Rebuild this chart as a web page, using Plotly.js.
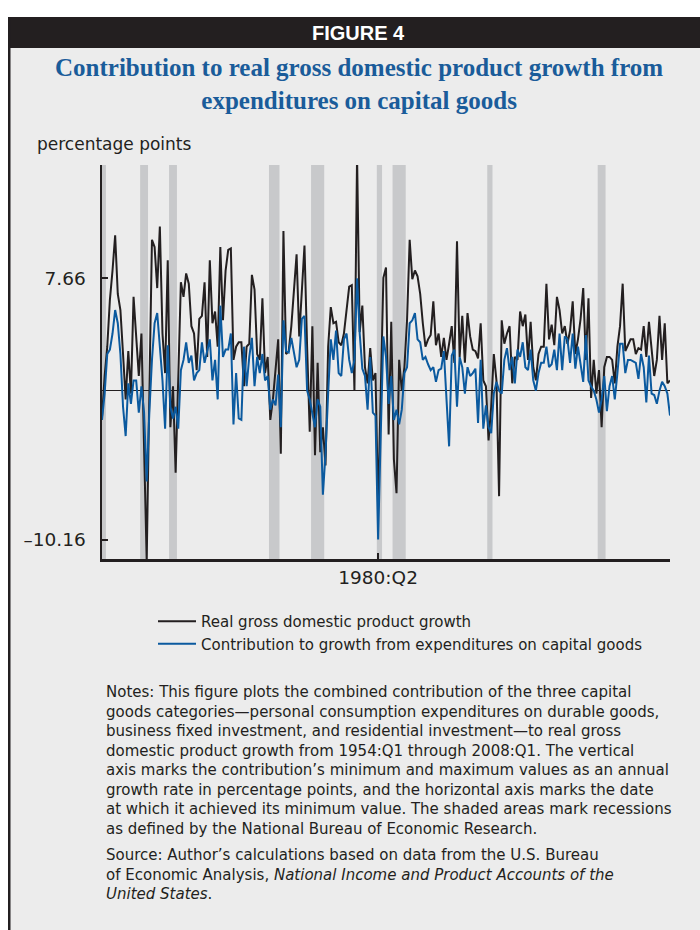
<!DOCTYPE html>
<html>
<head>
<meta charset="utf-8">
<script src="https://cdn.plot.ly/plotly-3.0.1.min.js"></script>
<style>
  html, body { margin: 0; padding: 0; background: #ffffff; }
  #chart { width: 700px; height: 930px; }
</style>
</head>
<body>
<div id="chart"></div>
<script>
// ---------------- DATA ----------------
const startYear = 1954;       // first quarter: 1954:Q1
const quarterCount = 217;     // through 2008:Q1

// Real GDP growth, annualized percent
const gdpGrowth = [
  -1.8, 1.0, 3.0, 6.2, 8.2, 10.6, 6.6, 5.5, 2.5, -0.6,
  2.7, -0.2, 6.4, 3.5, 1.0, 3.9, -3.6, -11.6, -0.2, 10.3,
  9.8, 7.0, 11.2, 3.9, 1.2, 8.9, -2.5, 0.3, -5.6, 1.0,
  7.4, 6.4, 8.0, 7.3, 4.4, 3.9, 1.4, 4.9, 5.1, 7.4,
  2.3, 8.9, 4.6, 5.4, 3.0, 9.8, 4.8, 8.2, 9.6, 9.7,
  2.1, 3.0, 3.3, 3.3, 0.3, 3.0, 3.2, 7.9, 6.9, 2.5,
  2.1, 6.3, 1.2, 2.3, -2.0, -0.6, 1.2, 3.5, -4.3, 10.9,
  2.5, 2.7, 4.4, 7.1, 9.3, 3.7, 6.6, 9.9, 3.0, -2.8,
  4.4, -4.4, 1.9, -4.2, -2.5, -5.1, 3.0, 5.7, 4.6, 4.7,
  3.3, 3.1, 3.9, 5.7, 7.1, 7.2, 0.0, 16.0, 4.0, 5.8,
  1.6, 0.5, 2.9, 0.7, 1.2, -8.0, -0.5, 7.7, 8.4, -3.0,
  4.7, -4.7, -7.0, 2.1, 0.0, 1.6, 4.8, 10.3, 7.6, 8.2,
  7.8, 6.6, 4.6, 3.0, 3.5, 3.8, 6.1, 3.1, 3.9, 2.3,
  3.6, 2.1, 3.2, 4.4, 1.9, 10.2, 2.3, 5.1, 1.9, 5.3,
  3.7, 2.8, 2.7, 2.2, 4.6, 0.7, 0.3, -3.4, -1.1, 2.5,
  0.7, -7.2, 4.8, 3.2, 3.9, 4.4, 0.5, 2.3, 2.1, 5.4,
  4.4, 5.2, 2.1, 4.7, 1.6, 0.7, 2.5, 3.0, 3.0, 7.3,
  3.5, 4.5, 3.1, 6.4, 5.5, 3.9, 4.4, 3.2, 4.1, 6.1,
  2.5, 3.5, 4.9, 7.0, 2.1, 6.3, -0.5, 2.1, -0.2, 1.4,
  -2.5, 1.6, 2.3, 2.3, 2.1, 0.5, 3.0, 4.4, 7.3, 2.7,
  3.1, 3.5, 3.5, 2.5, 2.9, 2.8, 4.4, 2.3, 4.7, 3.0,
  1.0, 2.1, 5.1, 2.1, 4.6, 0.5, 0.7
];

// Contribution to growth from expenditures on capital goods (percentage points)
const capitalContribution = [
  -2.0, -0.2, 2.5, 2.8, 3.9, 5.5, 4.6, 2.5, -1.1, -3.1,
  0.5, -0.9, 0.7, 0.7, -1.5, 0.3, -1.5, -6.2, -1.5, 2.1,
  4.6, 5.3, 3.0, 0.7, -2.6, 3.1, -1.1, -1.9, -1.1, -2.6,
  1.4, 2.1, 3.3, 1.9, 2.4, 0.7, 1.2, 1.4, 3.3, 1.9,
  2.7, 3.5, 0.7, 2.1, -0.6, 5.8, 2.3, 2.8, 2.8, 3.9,
  -2.3, 1.2, -1.9, -2.0, 3.0, 0.3, 2.3, 3.6, 0.3, 2.3,
  1.2, 2.5, 0.7, 1.0, -1.3, -0.6, -1.0, 1.1, -2.5, 4.8,
  2.7, 2.6, 3.6, 2.5, 1.6, 2.1, 4.9, 5.1, 0.0, -0.6,
  -1.5, -2.5, -0.6, -1.1, -7.1, -4.3, -0.2, 3.5, 2.1, 4.1,
  1.2, 1.0, 3.5, 3.9, 2.1, 1.2, 2.1, 7.66, 3.9, 1.5,
  1.0, -1.3, 2.3, -1.5, -1.7, -10.16, -3.0, 3.7, 2.3, -0.9,
  1.0, -2.0, -1.3, -2.3, -1.3, 1.2, 1.6, 4.6, 4.8, 5.3,
  3.5, 3.3, 2.1, 2.3, 1.8, 1.4, 1.6, 0.6, 1.4, 1.5,
  2.7, -0.2, -3.8, 2.4, 2.8, -1.1, 2.3, 1.6, -0.2, 1.6,
  1.0, 1.2, 1.5, -2.2, 2.1, -2.6, -1.0, -2.5, -2.9, -0.2,
  0.6, 0.0, -0.2, 2.1, 2.9, 1.4, 2.3, 0.5, 2.8, 2.3,
  3.3, 1.6, 1.4, 2.8, 0.7, 0.0, 1.2, 1.9, 1.9, 3.0,
  1.6, 1.8, 2.8, 1.4, 3.9, 1.4, 3.7, 3.5, 1.9, 3.9,
  1.5, 3.0, 1.9, 0.6, 3.8, 0.7, 0.3, 0.0, -0.6, -1.5,
  -0.6, 1.0, -1.4, 0.3, 1.0, -0.6, 1.2, 3.2, 3.2, 1.2,
  2.1, 2.1, 2.0, 1.9, 0.8, 2.5, 1.6, -0.8, 2.4, -0.2,
  -0.3, -0.9, 0.0, 0.6, 0.3, -0.2, -1.7
];

// NBER recessions (peak quarter, trough quarter)
const recessionPeaks   = ['1953:Q2','1957:Q3','1960:Q2','1969:Q4','1973:Q4','1980:Q1','1981:Q3','1990:Q3','2001:Q1'];
const recessionTroughs = ['1954:Q2','1958:Q2','1961:Q1','1970:Q4','1975:Q1','1980:Q3','1982:Q4','1991:Q1','2001:Q4'];

// Axis ticks
const yTickValues = [7.66, -10.16];
const yTickLabels = ['7.66', '\u201310.16'];
const xTickLabels = ['1980:Q2'];

const seriesNames = ['Real gross domestic product growth',
                     'Contribution to growth from expenditures on capital goods'];

// ---------------- BUILD ----------------
const quarters = [];
for (let i = 0; i < quarterCount; i++) {
  quarters.push((startYear + Math.floor(i / 4)) + ':Q' + (i % 4 + 1));
}
function qIndex(label) {
  const [y, q] = label.split(':Q').map(Number);
  return (y - startYear) * 4 + (q - 1);
}

// Pixel geometry helpers (convert page pixels to paper coords)
const W = 700, H = 930;
const M = { l: 102, r: 30, t: 165, b: 371 };
const PW = W - M.l - M.r, PH = H - M.t - M.b;
const px = x => (x - M.l) / PW;
const py = y => (H - M.b - y) / PH;

const INK = '#231f20';
const BLUE = '#0b5a9f';
const BG = '#ececec';
const SHADE = '#c8c9cb';
const SANS = 'DejaVu Sans, Liberation Sans, Arial, sans-serif';

const shapes = [];
// recession shading
recessionPeaks.forEach((p, k) => {
  shapes.push({
    type: 'rect', xref: 'x', yref: 'paper', layer: 'below',
    x0: Math.max(qIndex(p) + 0.5, 0), x1: qIndex(recessionTroughs[k]) + 0.5,
    y0: 0, y1: 1, fillcolor: SHADE, line: { width: 0 }
  });
});
// page frame: white strips, header bar, left rule
shapes.push({ type: 'rect', xref: 'paper', yref: 'paper', layer: 'above',
  x0: px(-5), x1: px(705), y0: py(17), y1: py(-5), fillcolor: '#ffffff', line: { width: 0 } });
shapes.push({ type: 'rect', xref: 'paper', yref: 'paper', layer: 'above',
  x0: px(-5), x1: px(8), y0: py(935), y1: py(-5), fillcolor: '#ffffff', line: { width: 0 } });
shapes.push({ type: 'rect', xref: 'paper', yref: 'paper', layer: 'above',
  x0: px(8), x1: px(705), y0: py(48), y1: py(17), fillcolor: INK, line: { width: 0 } });
shapes.push({ type: 'rect', xref: 'paper', yref: 'paper', layer: 'above',
  x0: px(8), x1: px(10.5), y0: py(935), y1: py(17), fillcolor: INK, line: { width: 0 } });

const notesText =
  'Notes: This figure plots the combined contribution of the three capital<br>' +
  'goods categories\u2014personal consumption expenditures on durable goods,<br>' +
  'business fixed investment, and residential investment\u2014to real gross<br>' +
  'domestic product growth from 1954:Q1 through 2008:Q1. The vertical<br>' +
  'axis marks the contribution\u2019s minimum and maximum values as an annual<br>' +
  'growth rate in percentage points, and the horizontal axis marks the date<br>' +
  'at which it achieved its minimum value. The shaded areas mark recessions<br>' +
  'as defined by the National Bureau of Economic Research.';
const sourceText =
  'Source: Author\u2019s calculations based on data from the U.S. Bureau<br>' +
  'of Economic Analysis, <i>National Income and Product Accounts of the</i><br>' +
  '<i>United States</i>.';

const annotations = [
  { text: '<b>FIGURE 4</b>', xref: 'paper', yref: 'paper', x: px(358), y: py(33),
    xanchor: 'center', yanchor: 'middle', showarrow: false,
    font: { family: 'Liberation Sans Narrow, Liberation Sans, Arial, sans-serif', size: 20, color: '#ffffff' } },
  { text: 'percentage points', xref: 'paper', yref: 'paper', x: px(35), y: py(144),
    xanchor: 'left', yanchor: 'middle', showarrow: false,
    font: { family: SANS, size: 17, color: INK } },
  { text: notesText, xref: 'paper', yref: 'paper', x: px(104), y: py(681),
    xanchor: 'left', yanchor: 'top', align: 'left', showarrow: false,
    font: { family: SANS, size: 15, color: INK } },
  { text: sourceText, xref: 'paper', yref: 'paper', x: px(104), y: py(844),
    xanchor: 'left', yanchor: 'top', align: 'left', showarrow: false,
    font: { family: SANS, size: 15, color: INK } }
];

const traces = [
  { type: 'scatter', mode: 'lines', name: seriesNames[0], x: quarters, y: gdpGrowth,
    line: { color: INK, width: 2 }, hoverinfo: 'skip' },
  { type: 'scatter', mode: 'lines', name: seriesNames[1], x: quarters, y: capitalContribution,
    line: { color: BLUE, width: 2 }, hoverinfo: 'skip' }
];

const layout = {
  width: W, height: H,
  margin: M,
  paper_bgcolor: BG, plot_bgcolor: BG,
  font: { family: SANS, color: INK },
  title: {
    text: '<b>Contribution to real gross domestic product growth from<br>expenditures on capital goods</b>',
    font: { family: 'Liberation Serif, Times New Roman, serif', size: 25, color: '#1a5c9a' },
    xref: 'container', yref: 'container', x: 0.513, xanchor: 'center',
    y: 1 - 76 / H, yanchor: 'top'
  },
  showlegend: true,
  legend: {
    x: px(153), y: py(605), xanchor: 'left', yanchor: 'top',
    bgcolor: 'rgba(0,0,0,0)', font: { family: SANS, size: 15, color: INK },
    traceorder: 'normal', itemwidth: 38, tracegroupgap: 0
  },
  xaxis: {
    type: 'category', categoryorder: 'array', categoryarray: quarters,
    range: [0, quarterCount - 1],
    showgrid: false, zeroline: false,
    showline: true, linecolor: INK, linewidth: 2.5,
    ticks: 'inside', ticklen: 6, tickwidth: 2, tickcolor: INK,
    tickmode: 'array', tickvals: xTickLabels, ticktext: xTickLabels,
    tickfont: { family: SANS, size: 18.5, color: INK },
    ticklabelstandoff: 0, fixedrange: true
  },
  yaxis: {
    range: [-11.49, 15.4],
    showgrid: false,
    zeroline: true, zerolinecolor: INK, zerolinewidth: 1.6,
    showline: true, linecolor: INK, linewidth: 2.5,
    ticks: 'inside', ticklen: 6, tickwidth: 2, tickcolor: INK,
    tickmode: 'array', tickvals: yTickValues, ticktext: yTickLabels,
    tickfont: { family: SANS, size: 18.5, color: INK },
    ticklabelstandoff: 10, fixedrange: true
  },
  shapes: shapes,
  annotations: annotations
};

Plotly.newPlot('chart', traces, layout, { displayModeBar: false, staticPlot: true });
</script>
</body>
</html>
